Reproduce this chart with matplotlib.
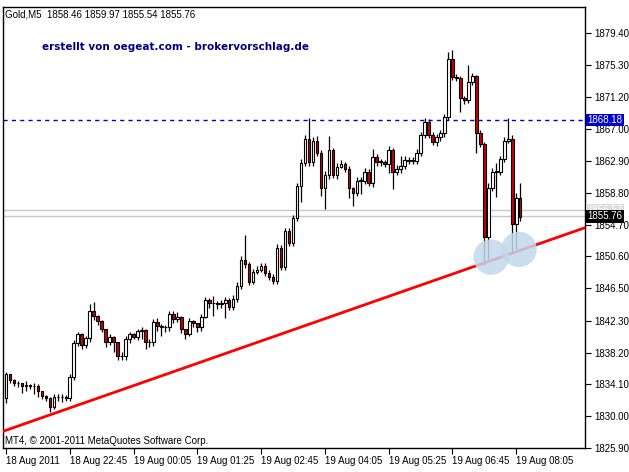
import matplotlib
matplotlib.use("Agg")
import matplotlib.pyplot as plt
import numpy as np
from matplotlib.patches import Rectangle

plt.rcParams['font.family'] = ['Liberation Sans', 'DejaVu Sans']

open0 = 1832.30
closes = [1835.39,1834.62,1834.23,1834.23,1833.84,1833.97,1833.84,1833.84,1833.20,1832.56,
          1832.30,1831.14,1832.43,1832.43,1832.43,1832.30,1835.00,1839.38,1840.54,1839.12,
          1840.02,1843.62,1842.98,1842.21,1841.18,1839.51,1840.15,1839.51,1837.70,1837.70,
          1839.89,1840.54,1840.15,1840.92,1841.05,1839.51,1839.51,1842.08,1841.57,1841.44,
          1841.44,1843.11,1842.47,1842.85,1841.18,1840.66,1842.21,1841.95,1841.44,1842.85,
          1845.04,1844.53,1844.53,1844.40,1844.65,1845.04,1844.14,1845.17,1846.84,1850.19,
          1849.67,1847.36,1848.65,1848.90,1849.42,1848.52,1848.00,1847.49,1851.73,1849.29,
          1853.92,1852.38,1855.59,1859.71,1862.67,1865.76,1862.80,1865.50,1863.96,1859.45,
          1861.13,1864.35,1861.13,1862.16,1862.54,1861.90,1859.45,1858.81,1860.36,1860.36,
          1861.51,1860.10,1863.44,1862.80,1862.80,1862.54,1864.35,1861.51,1861.90,1862.29,
          1863.06,1862.93,1862.93,1863.96,1866.27,1867.95,1866.27,1865.37,1866.02,1866.53,
          1868.59,1876.06,1873.74,1873.61,1871.04,1870.78,1873.10,1873.87,1866.53,1865.12,
          1853.15,1859.45,1861.51,1861.51,1863.19,1865.50,1865.76,1854.82,1858.17,1855.72]
highs = [1835.7,1835.5,1834.8,1834.6,1834.3,1834.5,1834.2,1834.3,1834.1,1833.3,
         1832.7,1832.5,1832.8,1832.9,1832.8,1832.7,1835.4,1839.8,1840.9,1840.7,
         1840.4,1844.5,1844.7,1843.1,1842.4,1841.3,1840.6,1840.4,1839.6,1838.3,
         1840.3,1840.9,1840.7,1841.3,1841.5,1841.3,1839.9,1842.5,1842.7,1841.9,
         1841.8,1843.5,1843.6,1843.4,1842.9,1841.3,1842.6,1842.4,1842.0,1843.2,
         1845.4,1845.3,1845.5,1844.9,1845.0,1845.4,1845.2,1845.6,1847.3,1850.6,
         1853.3,1849.9,1849.0,1849.3,1849.8,1849.7,1848.8,1848.3,1852.2,1852.1,
         1854.3,1854.2,1856.0,1860.1,1863.1,1866.2,1868.5,1866.0,1866.1,1864.3,
         1861.6,1866.1,1864.6,1862.6,1863.0,1862.8,1862.3,1859.5,1860.8,1860.8,
         1862.0,1861.9,1864.4,1863.8,1863.2,1863.0,1864.8,1864.6,1862.4,1863.5,
         1863.5,1863.4,1863.4,1864.4,1866.7,1868.4,1868.3,1866.6,1866.4,1866.9,
         1869.0,1876.96,1877.2,1874.1,1873.9,1871.3,1875.3,1874.3,1874.0,1866.9,
         1865.3,1860.0,1862.0,1862.7,1863.6,1866.0,1868.5,1866.2,1858.8,1860.0]
lows = [1831.66,1834.3,1833.9,1833.8,1833.0,1833.2,1833.5,1832.9,1832.5,1832.2,
        1831.9,1830.5,1830.9,1831.9,1831.8,1831.9,1831.9,1834.7,1839.0,1838.7,
        1838.8,1839.6,1842.4,1841.7,1840.8,1838.9,1839.2,1838.3,1837.3,1837.2,
        1837.3,1839.5,1839.9,1839.8,1840.0,1838.7,1838.9,1839.1,1841.0,1840.3,
        1840.9,1841.0,1842.0,1842.1,1840.7,1839.9,1840.3,1841.5,1840.9,1841.0,
        1842.6,1843.9,1842.9,1843.8,1843.9,1842.7,1843.7,1843.7,1844.7,1846.4,
        1849.1,1846.9,1847.0,1848.3,1848.6,1848.1,1847.6,1847.0,1847.0,1848.8,
        1848.8,1851.9,1852.0,1855.1,1857.6,1862.2,1862.3,1862.3,1863.5,1858.4,
        1856.7,1860.6,1860.7,1860.6,1862.0,1861.5,1858.1,1857.1,1858.4,1858.6,
        1859.9,1859.7,1859.6,1862.3,1862.3,1862.1,1861.4,1859.3,1861.1,1861.4,
        1861.9,1862.5,1862.5,1862.5,1863.6,1865.9,1865.8,1864.9,1864.8,1865.5,
        1866.0,1868.2,1873.3,1873.2,1869.2,1870.3,1870.4,1872.7,1863.95,1864.7,
        1849.5,1850.3,1859.0,1858.2,1861.1,1862.8,1865.2,1851.2,1851.5,1855.1]

tick_prices = [1879.40,1875.30,1871.20,1867.00,1862.90,1858.80,1854.70,1850.60,
               1846.50,1842.30,1838.20,1834.10,1830.00,1825.90]
time_labels = ["18 Aug 2011","18 Aug 22:45","19 Aug 00:05","19 Aug 01:25","19 Aug 02:45",
               "19 Aug 04:05","19 Aug 05:25","19 Aug 06:45","19 Aug 08:05"]
level_resist = 1868.18
level_ask = 1856.57
level_bid = 1855.76
trend_x = [-0.75, 145.25]
trend_y = [1828.05, 1854.30]
blob_x = [121.7, 128.7]
blob_y = [1850.5, 1851.5]

opens = [open0] + closes[:-1]
n = len(closes)

fig = plt.figure(figsize=(6.29, 4.72), dpi=100)
fig.patch.set_facecolor("white")
ax = fig.add_axes([3/629, 24/472, 582/629, 441/472])
ax.set_xlim(-0.75, 145.25)
ax.set_ylim(1825.99, 1882.75)

ax.axhline(level_ask, color="#c8c8c8", lw=1)
ax.axhline(level_bid, color="#c8c8c8", lw=1)
ax.axhline(level_resist, color="#0000cc", lw=1, ls=(0, (3, 3)))

for i in range(n):
    o, c, h, l = opens[i], closes[i], highs[i], lows[i]
    ax.vlines(i, l, h, color="black", lw=0.9, zorder=3)
    lo, hi = min(o, c), max(o, c)
    fc = "white" if c >= o else "#cc0000"
    ax.add_patch(Rectangle((i - 0.32, lo), 0.64, max(hi - lo, 0.08), facecolor=fc,
                           edgecolor="black", lw=0.8, zorder=4))

ax.plot(trend_x, trend_y, color="#ff0000", lw=2, zorder=5)

ax.scatter(blob_x, blob_y, s=650, color="#c2d8ec", alpha=0.85, zorder=6, edgecolors="none")

ax.yaxis.tick_right()
ax.set_yticks(tick_prices)
ax.set_yticklabels([f"{p:.2f}" for p in tick_prices], fontsize=7)
ax.tick_params(axis="y", direction="out", length=4, pad=3)
ax.set_xticks(np.arange(0, 16 * len(time_labels), 16))
ax.set_xticklabels(time_labels, fontsize=7, ha="left")
ax.tick_params(axis="x", direction="out", length=4, pad=2)
for s in ax.spines.values():
    s.set_linewidth(1)

def rlabel(y, txt, fc, tc):
    ax.text(1.004, y, txt, transform=ax.get_yaxis_transform(), fontsize=7, color=tc,
            va="center", ha="left", zorder=10,
            bbox=dict(boxstyle="square,pad=0.15", fc=fc, ec="none"))

rlabel(level_ask, "1856.57", "#dcdcdc", "white")
rlabel(level_resist, "1868.18", "#0000cc", "white")
rlabel(level_bid, "1855.76", "black", "white")

ax.text(0.004, 0.995, "Gold,M5  1858.46 1859.97 1855.54 1855.76", transform=ax.transAxes,
        fontsize=7, va="top", ha="left")
ax.text(0.067, 0.91, "erstellt von oegeat.com - brokervorschlag.de", transform=ax.transAxes,
        fontsize=7.5, fontweight="bold", color="#000080", va="center", ha="left",
        family="DejaVu Sans")
ax.text(0.004, 0.005, "MT4, © 2001-2011 MetaQuotes Software Corp.", transform=ax.transAxes,
        fontsize=7, va="bottom", ha="left")

fig.savefig("out.png", dpi=100, facecolor="white")
